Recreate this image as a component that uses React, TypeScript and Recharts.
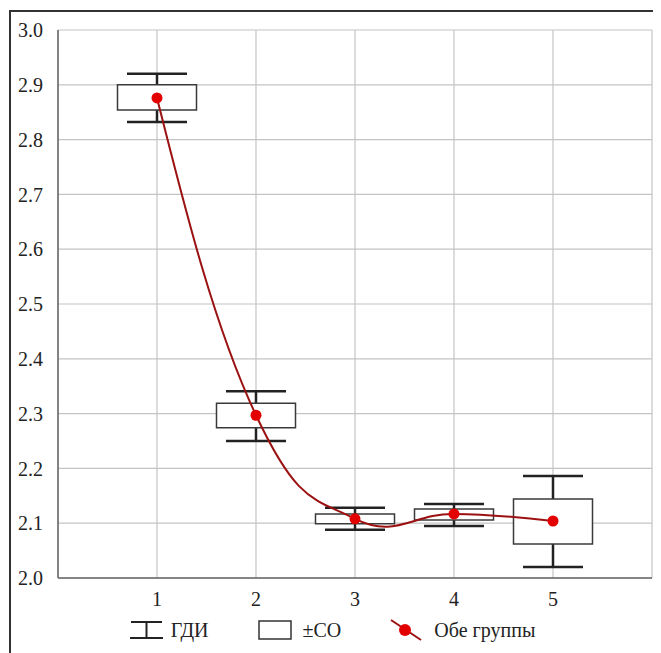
import React from 'react';
import {
  ComposedChart,
  XAxis,
  YAxis,
  CartesianGrid,
  Bar,
  Line,
  Scatter,
  ErrorBar,
  Legend,
} from 'recharts';

const categories = [1, 2, 3, 4, 5];
const means = [2.876, 2.297, 2.108, 2.117, 2.104];
const sdLow = [2.854, 2.274, 2.099, 2.106, 2.062];
const sdHigh = [2.9, 2.319, 2.117, 2.126, 2.144];
const ciLow = [2.832, 2.25, 2.088, 2.095, 2.02];
const ciHigh = [2.92, 2.341, 2.128, 2.135, 2.186];
const yTicks = [2.0, 2.1, 2.2, 2.3, 2.4, 2.5, 2.6, 2.7, 2.8, 2.9, 3.0];
const minorTicks = Array.from({ length: 51 }, (_, i) => Math.round((2 + i * 0.02) * 100) / 100);
const xTicks = [1, 2, 3, 4, 5];
const legendLabels = ['ГДИ', '±CO', 'Обе группы'];

const data = categories.map((x, i) => ({
  x,
  mean: means[i],
  box: [sdLow[i], sdHigh[i]],
  ci: [means[i] - ciLow[i], ciHigh[i] - means[i]],
}));

const FONT = '"Liberation Serif", "DejaVu Serif", serif';
const TEXT = '#222';

// Cardinal-style Hermite spline (smooth fit look)
const smoothCurve = (k: number) => (context: any) => {
  let pts: number[][] = [];
  return {
    areaStart() {},
    areaEnd() {},
    lineStart() {
      pts = [];
    },
    point(x: number, y: number) {
      pts.push([+x, +y]);
    },
    lineEnd() {
      const n = pts.length;
      if (n === 0) return;
      context.moveTo(pts[0][0], pts[0][1]);
      if (n === 1) return;
      if (n === 2) {
        context.lineTo(pts[1][0], pts[1][1]);
        return;
      }
      const m: number[][] = pts.map((p, i) => {
        if (i === 0 || i === n - 1) return [0, 0];
        return [
          (k * (pts[i + 1][0] - pts[i - 1][0])) / 2,
          (k * (pts[i + 1][1] - pts[i - 1][1])) / 2,
        ];
      });
      m[0] = [
        (3 * (pts[1][0] - pts[0][0]) - m[1][0]) / 2,
        (3 * (pts[1][1] - pts[0][1]) - m[1][1]) / 2,
      ];
      const a = n - 1;
      m[a] = [
        (3 * (pts[a][0] - pts[a - 1][0]) - m[a - 1][0]) / 2,
        (3 * (pts[a][1] - pts[a - 1][1]) - m[a - 1][1]) / 2,
      ];
      for (let i = 0; i < n - 1; i++) {
        context.bezierCurveTo(
          pts[i][0] + m[i][0] / 3,
          pts[i][1] + m[i][1] / 3,
          pts[i + 1][0] - m[i + 1][0] / 3,
          pts[i + 1][1] - m[i + 1][1] / 3,
          pts[i + 1][0],
          pts[i + 1][1]
        );
      }
    },
  };
};

const renderLegend = () => (
  <div
    style={{
      display: 'flex',
      justifyContent: 'center',
      alignItems: 'center',
      fontFamily: FONT,
      fontSize: 20,
      color: TEXT,
      gap: 49,
      paddingTop: 15,
      paddingLeft: 2,
    }}
  >
    <div style={{ display: 'flex', alignItems: 'center', gap: 8 }}>
      <svg width={33} height={22}>
        <line x1={1} y1={3} x2={32} y2={3} stroke="#222" strokeWidth={2} />
        <line x1={16.5} y1={3} x2={16.5} y2={19} stroke="#222" strokeWidth={2} />
        <line x1={0} y1={19} x2={33} y2={19} stroke="#222" strokeWidth={2} />
      </svg>
      <span>{legendLabels[0]}</span>
    </div>
    <div style={{ display: 'flex', alignItems: 'center', gap: 11 }}>
      <svg width={34} height={22}>
        <rect x={1} y={2} width={32} height={18} fill="#fff" stroke="#333" strokeWidth={1.5} />
      </svg>
      <span>{legendLabels[1]}</span>
    </div>
    <div style={{ display: 'flex', alignItems: 'center', gap: 12 }}>
      <svg width={32} height={24}>
        <line x1={1} y1={2} x2={31} y2={22} stroke="#9b1111" strokeWidth={2} />
        <circle cx={15} cy={12} r={6} fill="#e30000" />
      </svg>
      <span>{legendLabels[2]}</span>
    </div>
  </div>
);

export default function App() {
  return (
    <div
      style={{
        marginLeft: 1,
        marginTop: 2,
        width: 652,
        height: 643,
        borderTop: '2px solid #333',
        borderLeft: '2px solid #333',
        background: '#fff',
        boxSizing: 'border-box',
      }}
    >
      <ComposedChart
        width={650}
        height={641}
        data={data}
        margin={{ top: 18, right: 9, left: 0, bottom: 5 }}
      >
        <CartesianGrid stroke="#c4c4c4" strokeWidth={1.2} />
        <XAxis
          dataKey="x"
          type="number"
          domain={[0, 6]}
          ticks={xTicks}
          allowDataOverflow
          height={25}
          tickLine={false}
          tickMargin={8}
          axisLine={{ stroke: '#666', strokeWidth: 1.5 }}
          tick={{ fontFamily: FONT, fontSize: 20, fill: TEXT }}
        />
        <YAxis
          domain={[2, 3]}
          ticks={yTicks}
          width={47}
          allowDataOverflow
          tickLine={false}
          tickMargin={9}
          axisLine={{ stroke: '#666', strokeWidth: 1.5 }}
          tickFormatter={(v: number) => v.toFixed(1)}
          tick={{ fontFamily: FONT, fontSize: 20, fill: TEXT }}
        />
        <YAxis
          yAxisId="leftMinor"
          orientation="left"
          domain={[2, 3]}
          ticks={minorTicks}
          width={0}
          mirror
          tick={false}
          tickSize={3}
          tickLine={{ stroke: '#888' }}
          axisLine={false}
        />
        <YAxis
          yAxisId="right"
          orientation="right"
          domain={[2, 3]}
          ticks={minorTicks}
          width={0}
          mirror
          tick={false}
          tickSize={3}
          tickLine={{ stroke: '#888' }}
          axisLine={{ stroke: '#666', strokeWidth: 1.5 }}
        />
        <Scatter
          dataKey="mean"
          isAnimationActive={false}
          shape={() => <g />}
          legendType="none"
          zIndex={200}
        >
          <ErrorBar
            dataKey="ci"
            direction="y"
            width={30}
            stroke="#222"
            strokeWidth={2.5}
            zIndex={200}
          />
        </Scatter>
        <Bar
          dataKey="box"
          barSize={79}
          fill="#fff"
          stroke="#3a3a3a"
          strokeWidth={1.5}
          isAnimationActive={false}
          zIndex={300}
        />
        <Line
          type={smoothCurve(1.25) as any}
          dataKey="mean"
          stroke="#9b1111"
          strokeWidth={2}
          dot={{ r: 5.5, fill: '#e30000', stroke: 'none' }}
          activeDot={false}
          isAnimationActive={false}
          zIndex={400}
        />
        <Legend verticalAlign="bottom" height={45} content={renderLegend} />
      </ComposedChart>
    </div>
  );
}
